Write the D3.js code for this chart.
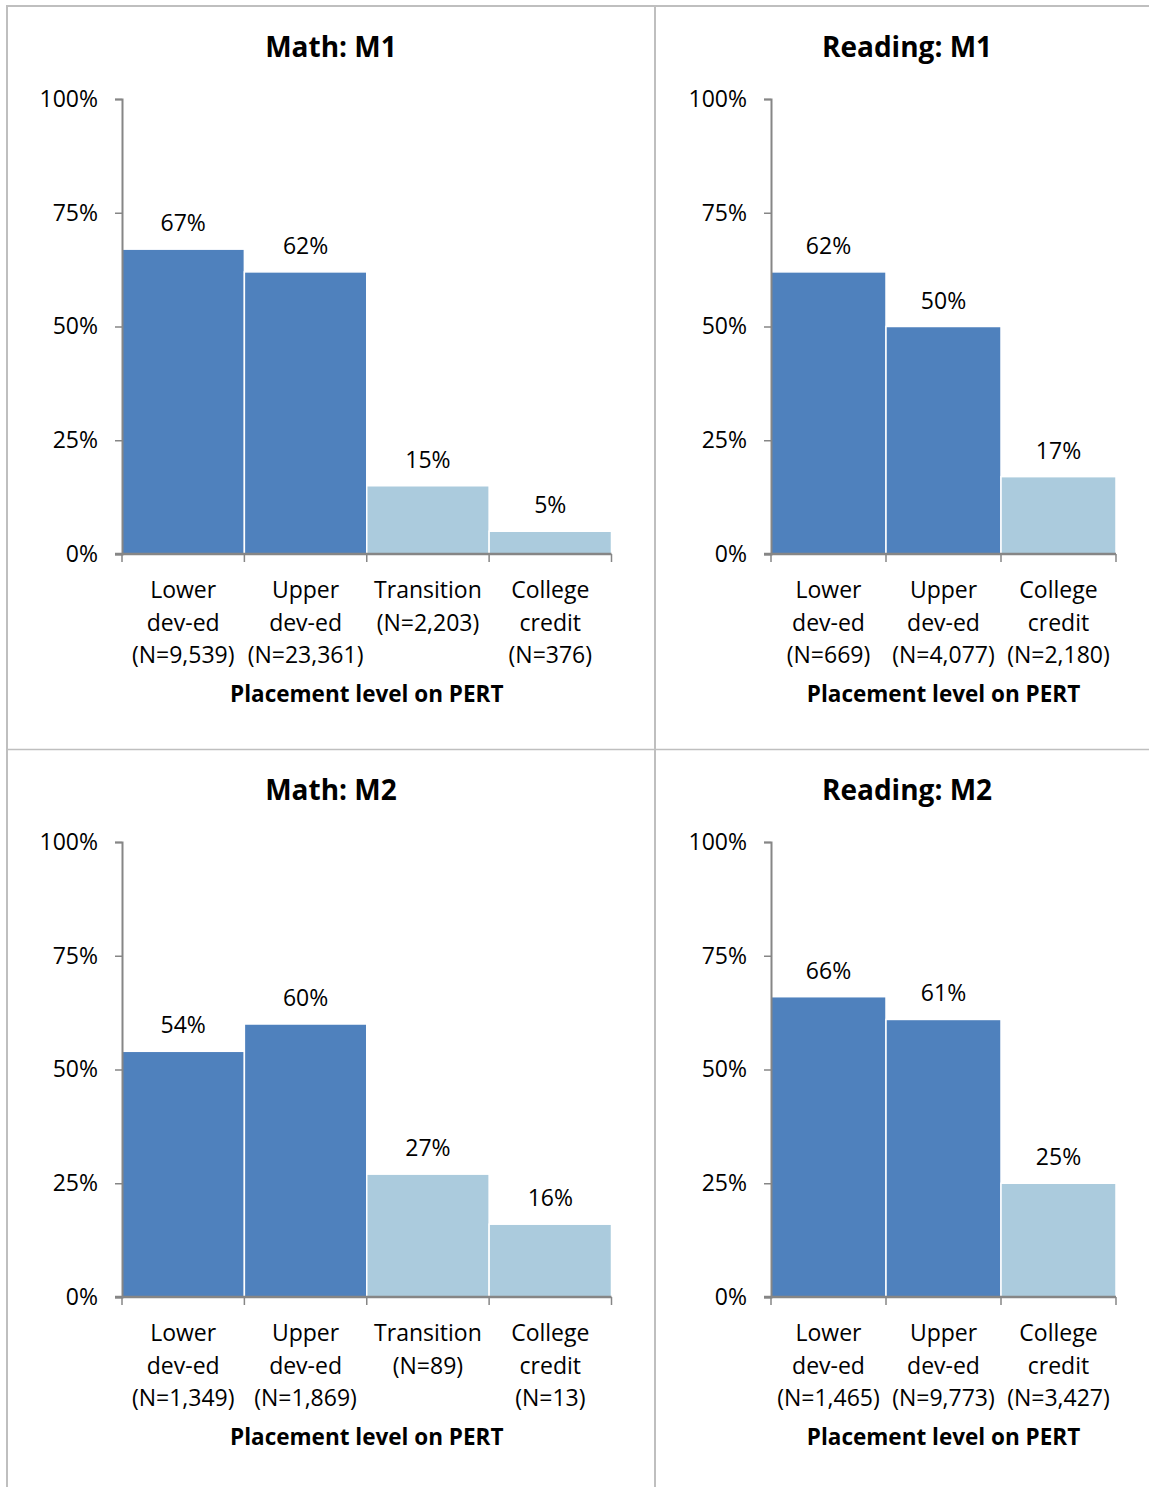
<!DOCTYPE html>
<html>
<head>
<meta charset="utf-8">
<script src="https://cdn.jsdelivr.net/npm/d3@7"></script>
<style>
  html, body { margin: 0; padding: 0; background: #fff; }
  svg { display: block; }
  text { font-family: "Open Sans", "Noto Sans", sans-serif; fill: #000; }
</style>
</head>
<body>
<svg id="chart" width="1149" height="1487"></svg>
<script>
// Share of students, by PERT placement level
const panelTitles = ["Math: M1", "Reading: M1", "Math: M2", "Reading: M2"];

const mathLevels = [["Lower", "dev-ed"], ["Upper", "dev-ed"], ["Transition"], ["College", "credit"]];
const readingLevels = [["Lower", "dev-ed"], ["Upper", "dev-ed"], ["College", "credit"]];

const mathDevEd = [true, true, false, false];
const readingDevEd = [true, true, false];

const mathM1Values = [67, 62, 15, 5];
const mathM1N = ["9,539", "23,361", "2,203", "376"];

const readingM1Values = [62, 50, 17];
const readingM1N = ["669", "4,077", "2,180"];

const mathM2Values = [54, 60, 27, 16];
const mathM2N = ["1,349", "1,869", "89", "13"];

const readingM2Values = [66, 61, 25];
const readingM2N = ["1,465", "9,773", "3,427"];

const yTicks = [0, 25, 50, 75, 100];
const yTickLabels = ["0%", "25%", "50%", "75%", "100%"];
const xAxisTitle = "Placement level on PERT";

const panels = [
  { title: panelTitles[0], levels: mathLevels, devEd: mathDevEd, values: mathM1Values, n: mathM1N, col: 0, row: 0 },
  { title: panelTitles[1], levels: readingLevels, devEd: readingDevEd, values: readingM1Values, n: readingM1N, col: 1, row: 0 },
  { title: panelTitles[2], levels: mathLevels, devEd: mathDevEd, values: mathM2Values, n: mathM2N, col: 0, row: 1 },
  { title: panelTitles[3], levels: readingLevels, devEd: readingDevEd, values: readingM2Values, n: readingM2N, col: 1, row: 1 }
];

const svg = d3.select("#chart");
const gridColor = "#BFBFBF";
const axisColor = "#868686";
const darkBlue = "#4F81BD";
const lightBlue = "#ABCBDD";
const fontSize = 23;

// table grid around the four charts
svg.append("line").attr("x1", 6).attr("x2", 1149).attr("y1", 6).attr("y2", 6)
  .attr("stroke", gridColor).attr("stroke-width", 2);
svg.append("line").attr("x1", 7).attr("x2", 7).attr("y1", 5).attr("y2", 1487)
  .attr("stroke", gridColor).attr("stroke-width", 2);
svg.append("line").attr("x1", 655).attr("x2", 655).attr("y1", 5).attr("y2", 1487)
  .attr("stroke", gridColor).attr("stroke-width", 2);
svg.append("line").attr("x1", 7).attr("x2", 1149).attr("y1", 749.5).attr("y2", 749.5)
  .attr("stroke", gridColor).attr("stroke-width", 1.5);

// plot frame per column: y axis position and x extent
const colFrame = [
  { left: 122, right: 611.5, titleX: 331 },
  { left: 771, right: 1116, titleX: 907 }
];
const rowOffset = 743;

panels.forEach(p => {
  const f = colFrame[p.col];
  const dy = p.row * rowOffset;
  const yBottom = 554 + dy, yTop = 99 + dy;
  const g = svg.append("g");

  const idx = p.values.map((_, i) => i);
  const x = d3.scaleBand().domain(idx).range([f.left, f.right]).padding(0);
  const y = d3.scaleLinear().domain([0, 100]).range([yBottom, yTop]);

  // title
  g.append("text")
    .attr("x", f.titleX).attr("y", 57 + dy)
    .attr("text-anchor", "middle")
    .attr("font-size", 28).attr("font-weight", 700)
    .text(p.title);

  // bars
  g.selectAll("rect.bar").data(idx).join("rect")
    .attr("class", "bar")
    .attr("x", i => x(i))
    .attr("width", x.bandwidth())
    .attr("y", i => y(p.values[i]))
    .attr("height", i => y(0) - y(p.values[i]))
    .attr("fill", i => p.devEd[i] ? darkBlue : lightBlue)
    .attr("stroke", "#fff").attr("stroke-width", 1.5);

  // value labels
  g.selectAll("text.val").data(idx).join("text")
    .attr("class", "val")
    .attr("x", i => x(i) + x.bandwidth() / 2)
    .attr("y", i => y(p.values[i]) - 18)
    .attr("text-anchor", "middle")
    .attr("font-size", fontSize)
    .text(i => p.values[i] + "%");

  // y axis
  const yAxis = d3.axisLeft(y).tickValues(yTicks)
    .tickFormat((d, i) => yTickLabels[i]).tickSize(7).tickPadding(17);
  const ya = g.append("g").attr("transform", `translate(${f.left},0)`).call(yAxis);
  ya.select(".domain").attr("stroke", axisColor).attr("stroke-width", 2);
  ya.selectAll(".tick line").attr("stroke", axisColor).attr("stroke-width", 1.5);
  ya.selectAll(".tick text").attr("font-size", fontSize).attr("fill", "#000")
    .attr("font-family", "'Open Sans', 'Noto Sans', sans-serif");

  // x axis: ticks on band boundaries
  const xa = g.append("g").attr("transform", `translate(0,${yBottom})`);
  xa.append("line").attr("x1", f.left - 7).attr("x2", f.right)
    .attr("y1", 0).attr("y2", 0).attr("stroke", axisColor).attr("stroke-width", 2.5);
  const bounds = idx.map(i => x(i)).concat([f.right]);
  xa.selectAll("line.tk").data(bounds).join("line")
    .attr("class", "tk")
    .attr("x1", d => d).attr("x2", d => d)
    .attr("y1", 0).attr("y2", 8)
    .attr("stroke", axisColor).attr("stroke-width", 1.5);

  // category labels
  idx.forEach(i => {
    const lines = p.levels[i].concat(["(N=" + p.n[i] + ")"]);
    const t = g.append("text")
      .attr("text-anchor", "middle")
      .attr("font-size", fontSize);
    lines.forEach((ln, k) => {
      t.append("tspan")
        .attr("x", x(i) + x.bandwidth() / 2)
        .attr("y", 598 + dy + k * 32.5)
        .text(ln);
    });
  });

  // x axis title
  g.append("text")
    .attr("x", (f.left + f.right) / 2).attr("y", 702 + dy)
    .attr("text-anchor", "middle")
    .attr("font-size", 22.5).attr("font-weight", 700)
    .text(xAxisTitle);
});
</script>
</body>
</html>
